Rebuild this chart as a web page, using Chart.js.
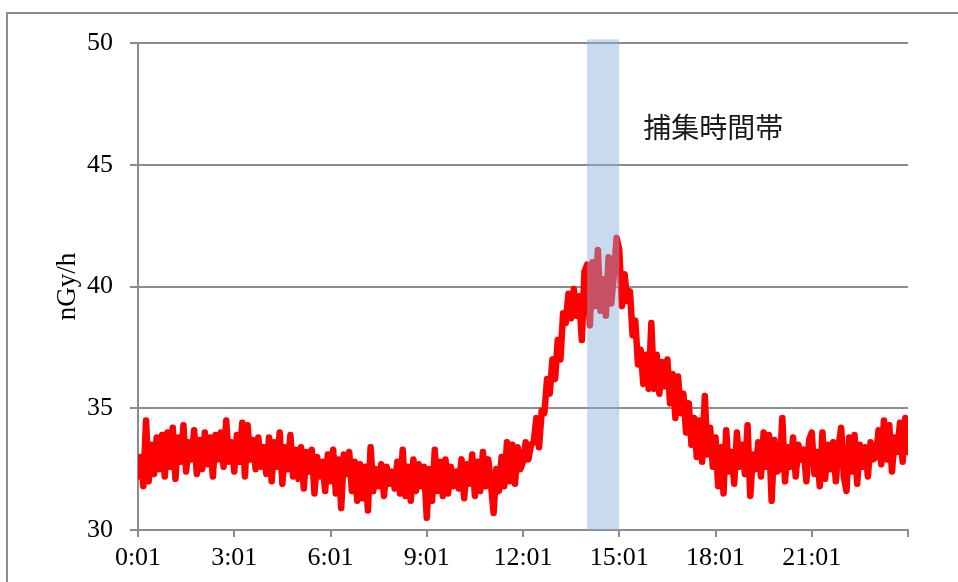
<!DOCTYPE html>
<html>
<head>
<meta charset="utf-8">
<script src="https://cdn.jsdelivr.net/npm/chart.js@4/dist/chart.umd.min.js"></script>
<style>
html, body { margin: 0; padding: 0; background: #fff; }
</style>
</head>
<body>
<canvas id="chart" width="958" height="582"></canvas>
<script>
// 5分ごとの線量率 (nGy/h)、3時間ずつ
var v00 = [32.2, 33.0, 31.8, 34.5, 32.0, 33.5, 32.3, 33.8, 32.5, 33.9, 32.2, 34.0,
	32.6, 34.2, 32.1, 33.8, 32.8, 34.3, 32.4, 33.6, 32.9, 34.1, 32.3, 33.7,
	32.5, 34.0, 32.7, 33.8, 32.2, 33.9, 32.9, 34.0, 32.6, 34.5, 32.8, 33.6];
var v03 = [32.4, 33.9, 32.8, 34.4, 32.2, 34.3, 32.9, 33.7, 32.5, 33.8, 32.6, 33.4,
	32.3, 33.8, 32.0, 33.6, 32.6, 34.0, 31.9, 33.4, 32.5, 33.9, 32.2, 33.3,
	32.1, 33.4, 31.7, 33.2, 32.4, 33.3, 31.5, 33.0, 32.2, 32.8, 31.6, 33.1];
var v06 = [32.0, 33.3, 31.5, 32.9, 30.9, 33.1, 32.3, 33.2, 31.6, 32.8, 31.2, 32.7,
	31.3, 32.6, 30.8, 33.4, 31.6, 32.5, 31.8, 32.7, 31.4, 32.6, 31.9, 32.4,
	31.7, 32.8, 31.5, 33.3, 31.4, 32.6, 31.2, 32.9, 31.6, 32.7, 31.8, 32.6];
var v09 = [30.5, 32.5, 31.2, 33.3, 31.6, 32.8, 31.4, 32.9, 31.5, 32.6, 31.8, 32.4,
	31.7, 32.9, 31.3, 32.7, 31.9, 33.1, 31.4, 32.8, 31.6, 33.2, 31.8, 32.9,
	31.9, 30.7, 32.5, 31.6, 33.0, 31.8, 33.6, 32.0, 33.5, 31.9, 33.4, 32.5];
var v12 = [32.8, 33.6, 32.9, 33.5, 33.6, 34.6, 33.4, 34.9, 34.8, 36.2, 35.6, 37.0,
	36.2, 37.8, 37.0, 38.9, 38.5, 39.7, 38.7, 39.9, 38.8, 39.6, 37.8, 40.6,
	40.9, 38.4, 41.0, 39.2, 41.5, 39.0, 40.3, 38.8, 41.2, 39.3, 40.5, 42.0];
var v15 = [41.5, 39.2, 40.5, 39.4, 39.8, 38.0, 38.6, 36.8, 37.4, 36.0, 37.2, 35.8,
	38.5, 35.8, 37.2, 35.6, 36.9, 35.9, 37.0, 35.2, 36.4, 34.6, 36.3, 34.8,
	35.6, 34.0, 35.2, 33.5, 34.6, 33.0, 34.5, 32.8, 35.5, 33.1, 34.2, 32.6];
var v18 = [33.8, 31.8, 33.4, 31.5, 34.1, 32.4, 33.2, 31.9, 34.0, 32.6, 33.5, 32.3,
	34.3, 31.4, 33.1, 32.5, 33.6, 32.2, 34.0, 32.6, 33.9, 31.2, 33.7, 32.4,
	32.5, 34.6, 32.0, 33.4, 32.6, 33.8, 32.2, 33.5, 32.9, 33.3, 32.0, 33.7];
var v21 = [34.0, 32.3, 33.2, 31.8, 34.0, 32.1, 33.5, 32.5, 33.6, 32.0, 33.4, 34.2,
	32.2, 31.6, 33.8, 32.4, 33.9, 31.9, 33.5, 32.6, 33.4, 32.2, 33.6, 32.9,
	33.0, 34.1, 32.7, 34.5, 32.9, 34.3, 32.4, 33.8, 33.2, 34.4, 32.8, 34.6, 33.2];

var stepMin = 5;
var tickHours = [0, 3, 6, 9, 12, 15, 18, 21, 24];
var bandRange = [840, 900]; // 14:01〜15:01
var bandLabel = '捕集時間帯';
var yTicks = [30, 35, 40, 45, 50];

var values = [].concat(v00, v03, v06, v09, v12, v15, v18, v21);
var points = values.map((v, i) => ({ x: i * stepMin, y: v }));

var GRID = '#8c8c8c';
var SERIF = '"Liberation Serif", "Times New Roman", serif';

// 外枠
var framePlugin = {
	id: 'frame',
	beforeDraw(chart){
		var ctx = chart.ctx;
		ctx.save();
		ctx.fillStyle = '#fff';
		ctx.fillRect(0, 0, chart.width, chart.height);
		ctx.strokeStyle = GRID;
		ctx.lineWidth = 2;
		ctx.strokeRect(7, 13, 1000, 1000);
		ctx.restore();
	}
};

// 捕集時間帯の帯と文字
var bandPlugin = {
	id: 'band',
	afterDatasetsDraw(chart){
		var ctx = chart.ctx;
		var x = chart.scales.x, y = chart.scales.y;
		var x0 = x.getPixelForValue(bandRange[0]);
		var x1 = x.getPixelForValue(bandRange[1]);
		var top = y.getPixelForValue(50.15);
		var bottom = y.getPixelForValue(30);
		ctx.save();
		ctx.fillStyle = 'rgba(133,174,217,0.46)';
		ctx.fillRect(x0, top, x1 - x0, bottom - top);
		ctx.fillStyle = '#1a1a1a';
		ctx.font = '28px "Noto Sans CJK JP"';
		ctx.textBaseline = 'middle';
		ctx.textAlign = 'left';
		ctx.fillText(bandLabel, x.getPixelForValue(945), y.getPixelForValue(46.55));
		ctx.restore();
	}
};

var ctx = document.getElementById('chart').getContext('2d');
var mychart = new Chart(ctx, {
	type: 'line',
	data: {
		datasets: [{
			data: points,
			borderColor: '#ff0000',
			borderWidth: 6.5,
			borderJoinStyle: 'round',
			borderCapStyle: 'round',
			pointRadius: 0,
			tension: 0
		}]
	},
	options: {
		responsive: false,
		animation: false,
		layout: { padding: { top: 43, right: 50, left: 0, bottom: 0 } },
		plugins: { legend: { display: false }, tooltip: { enabled: false } },
		scales: {
			x: {
				type: 'linear',
				min: 0,
				max: 1440,
				afterBuildTicks(scale){
					scale.ticks = tickHours.map(h => ({ value: h * 60 }));
				},
				afterFit(scale){ scale.height = 52; },
				ticks: {
					color: '#000',
					font: { family: SERIF, size: 26 },
					padding: 6,
					maxRotation: 0,
					autoSkip: false,
					callback: (v) => v >= 1440 ? '' : (v / 60) + ':01'
				},
				grid: { drawOnChartArea: false, drawTicks: true, tickLength: 7, color: GRID, lineWidth: 2 },
				border: { color: GRID, width: 2 }
			},
			y: {
				min: 30,
				max: 50,
				afterBuildTicks(scale){
					scale.ticks = yTicks.map(v => ({ value: v }));
				},
				afterFit(scale){ scale.width = 138; },
				ticks: {
					color: '#000',
					font: { family: SERIF, size: 26 },
					padding: 17
				},
				title: {
					display: true,
					text: 'nGy/h',
					color: '#000',
					font: { family: SERIF, size: 27 },
					padding: { top: 52, bottom: 0 }
				},
				grid: { color: GRID, lineWidth: 2, tickLength: 8 },
				border: { color: GRID, width: 2 }
			}
		}
	},
	plugins: [framePlugin, bandPlugin]
});
</script>
</body>
</html>
